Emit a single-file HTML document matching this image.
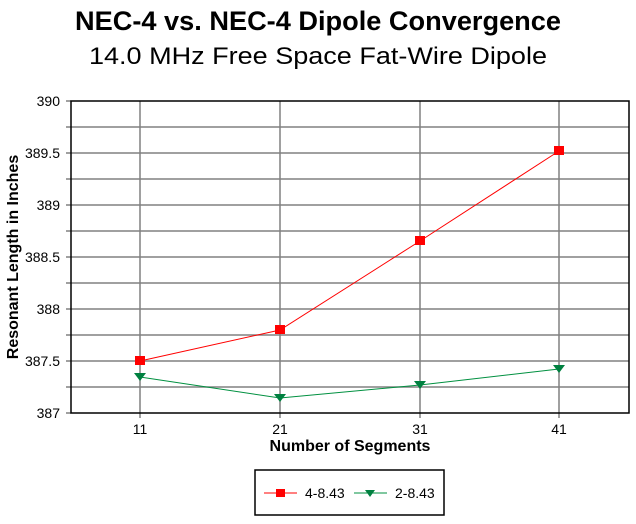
<!DOCTYPE html>
<html><head><style>body{margin:0;background:#fff}</style></head><body>
<svg width="636" height="519" xmlns="http://www.w3.org/2000/svg" font-family="Liberation Sans, Arial, sans-serif">
<rect width="636" height="519" fill="#fff"/>
<text x="318" y="30" font-size="27" text-anchor="middle" font-weight="bold" textLength="486" lengthAdjust="spacingAndGlyphs">NEC-4 vs. NEC-4  Dipole Convergence</text>
<text x="318" y="64" font-size="24" text-anchor="middle" textLength="458" lengthAdjust="spacingAndGlyphs">14.0 MHz Free Space Fat-Wire Dipole</text>
<g stroke="#808080" stroke-width="1.5">
<line x1="66" y1="127" x2="629" y2="127"/><line x1="66" y1="153" x2="629" y2="153"/>
<line x1="66" y1="179" x2="629" y2="179"/><line x1="66" y1="205" x2="629" y2="205"/>
<line x1="66" y1="231" x2="629" y2="231"/><line x1="66" y1="257" x2="629" y2="257"/>
<line x1="66" y1="283" x2="629" y2="283"/><line x1="66" y1="309" x2="629" y2="309"/>
<line x1="66" y1="335" x2="629" y2="335"/><line x1="66" y1="361" x2="629" y2="361"/>
<line x1="66" y1="387" x2="629" y2="387"/>
<line x1="140" y1="101" x2="140" y2="418"/><line x1="280" y1="101" x2="280" y2="418"/>
<line x1="420" y1="101" x2="420" y2="418"/><line x1="559" y1="101" x2="559" y2="418"/>
<line x1="66" y1="101" x2="71" y2="101"/><line x1="66" y1="413" x2="71" y2="413"/>
</g>
<rect x="71" y="101" width="558" height="312" fill="none" stroke="#000" stroke-width="1.5"/>
<g font-size="14" text-anchor="end">
<text x="60" y="106">390</text><text x="60" y="158">389.5</text><text x="60" y="210">389</text><text x="60" y="262">388.5</text><text x="60" y="314">388</text><text x="60" y="366">387.5</text><text x="60" y="418">387</text>
</g>
<g font-size="14" text-anchor="middle">
<text x="140" y="434">11</text><text x="280" y="434">21</text><text x="420" y="434">31</text><text x="559" y="434">41</text>
</g>
<text x="350" y="451" font-size="16" font-weight="bold" text-anchor="middle">Number of Segments</text>
<text transform="translate(18,257) rotate(-90)" font-size="16" font-weight="bold" text-anchor="middle">Resonant Length in Inches</text>
<polyline points="140,361 280,330 420,241 559,151" fill="none" stroke="#f00" stroke-width="1"/>
<polyline points="140,377 280,398 420,385 559,369" fill="none" stroke="#009040" stroke-width="1"/>
<g fill="#f00"><rect x="135" y="356" width="10" height="9"/><rect x="275" y="325" width="10" height="9"/><rect x="415" y="236" width="10" height="9"/><rect x="554" y="146" width="10" height="9"/></g>
<g fill="#008040"><path d="M134,373h12l-6,8z"/><path d="M274,394h12l-6,8z"/><path d="M414,381h12l-6,8z"/><path d="M553,365h12l-6,8z"/></g>
<rect x="255" y="470" width="189" height="45" fill="#fff" stroke="#000" stroke-width="1.5"/>
<line x1="264" y1="493" x2="297" y2="493" stroke="#f00"/><rect x="276" y="489" width="9" height="8" fill="#f00"/>
<text x="305" y="498" font-size="14">4-8.43</text>
<line x1="354" y1="493" x2="387" y2="493" stroke="#009040"/><path d="M365,490h10l-5,7z" fill="#008040"/>
<text x="395" y="498" font-size="14">2-8.43</text>
</svg>
</body></html>
